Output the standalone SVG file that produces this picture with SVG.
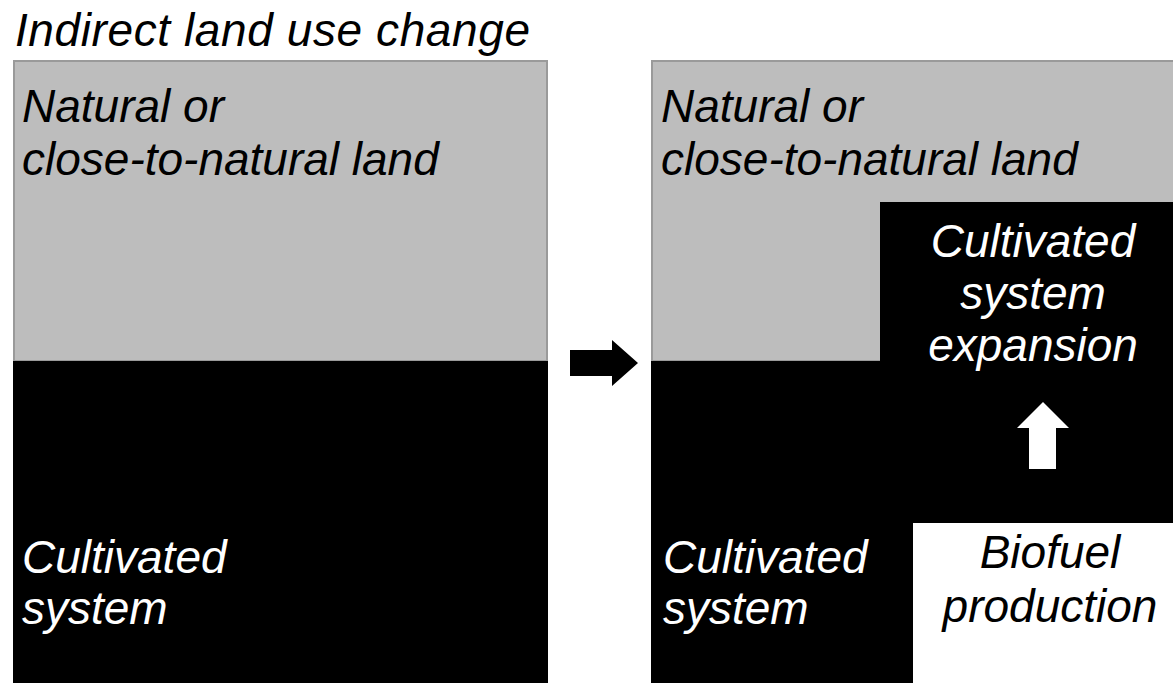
<svg xmlns="http://www.w3.org/2000/svg" width="1173" height="683" viewBox="0 0 1173 683">
<style>
.t{font-family:"Liberation Sans",Arial,sans-serif;font-style:italic;font-size:46px}
.dk{fill:#000}
.lt{fill:#fff}
.gray{fill:#bdbdbd;stroke:#9a9a9a;stroke-width:2}
</style>
<rect width="1173" height="683" fill="#fff"/>
<g id="title">
<text class="t dk" x="15" y="46" textLength="515" lengthAdjust="spacing">Indirect land use change</text>
</g>
<g id="left-natural">
<rect class="gray" x="14" y="61" width="533" height="300"/>
<text class="t dk" x="22" y="122">Natural or</text>
<text class="t dk" x="22" y="175">close-to-natural land</text>
</g>
<g id="left-cultivated">
<rect x="13" y="361" width="535" height="322" fill="#000"/>
<text class="t lt" x="22" y="573">Cultivated</text>
<text class="t lt" x="22" y="624">system</text>
</g>
<g id="right-natural">
<rect class="gray" x="652" y="61" width="530" height="300"/>
<text class="t dk" x="661" y="122">Natural or</text>
<text class="t dk" x="661" y="175">close-to-natural land</text>
</g>
<g id="right-cultivated">
<rect x="651" y="361" width="530" height="322" fill="#000"/>
<text class="t lt" x="663" y="573">Cultivated</text>
<text class="t lt" x="663" y="624">system</text>
</g>
<g id="expansion">
<rect x="880" y="202" width="300" height="322" fill="#000"/>
<text class="t lt" x="1033" y="257" text-anchor="middle">Cultivated</text>
<text class="t lt" x="1033" y="309" text-anchor="middle">system</text>
<text class="t lt" x="1033" y="361" text-anchor="middle">expansion</text>
</g>
<g id="biofuel">
<rect x="913" y="523" width="270" height="170" fill="#fff"/>
<text class="t dk" x="1050" y="568" text-anchor="middle">Biofuel</text>
<text class="t dk" x="1050" y="622" text-anchor="middle">production</text>
</g>
<g id="connectors">
<polygon points="570,350 612,350 612,340 638,363 612,386 612,376 570,376" fill="#000"/>
<polygon points="1043,402 1069,428 1056,428 1056,469 1029,469 1029,428 1017,428" fill="#fff"/>
</g>
</svg>
